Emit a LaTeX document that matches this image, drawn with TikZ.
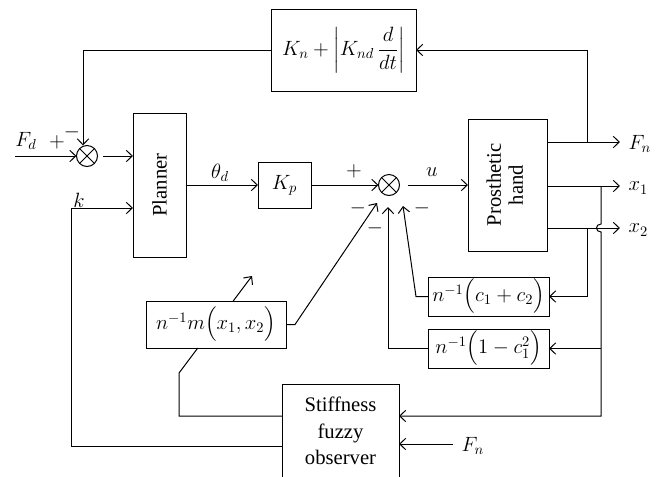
\RequirePackage{fix-cm}
\documentclass[tikz,border=0pt]{standalone}
\usepackage{amsmath}
\usepackage{fontspec}
\setmainfont{Liberation Serif}
\usepackage{graphicx}
\usetikzlibrary{arrows.meta}
\begin{document}
\begin{tikzpicture}[x=0.75pt,y=-0.75pt,
  font=\fontsize{15.5}{20}\selectfont,
  line width=0.75pt,
  >={Straight Barb[length=4.5pt,width=8.5pt]},
  blk/.style={draw,fill=white,inner sep=0pt,outer sep=0pt,align=center},
  sumnode/.style={draw,circle,minimum size=15.75pt,inner sep=0pt,outer sep=0pt,
    path picture={\draw (path picture bounding box.north west) -- (path picture bounding box.south east)
                        (path picture bounding box.north east) -- (path picture bounding box.south west);}},
  lbl/.style={inner sep=0pt}]
\useasboundingbox (0,0) rectangle (661,476);

% blocks
\node[blk,minimum width=108.75pt,minimum height=61.5pt] (top) at (343.5,50) {$K_n + \left|K_{nd}\,\dfrac{d}{dt}\right|$};
\node[sumnode] (sum1) at (87,156) {};
\node[blk,minimum width=39.75pt,minimum height=108pt] (planner) at (159.5,185) {\rotatebox{90}{Planner}};
\node[blk,minimum width=39.75pt,minimum height=34.5pt] (Kp) at (284.5,185) {$K_p$};
\node[sumnode] (sum2) at (389,185) {};
\node[blk,minimum width=59.25pt,minimum height=99pt] (hand) at (507.5,185)
  {\rotatebox{90}{\fontsize{15.5}{16.5}\selectfont\begin{tabular}{@{}c@{}}Prosthetic\\hand\end{tabular}}};
\node[blk,minimum width=90.75pt,minimum height=29.25pt] (c12) at (488.5,296.5) {$n^{-1}\Bigl(c_1+c_2\Bigr)$};
\node[blk,minimum width=90.75pt,minimum height=29.25pt] (cc) at (488.5,348.5) {$n^{-1}\Bigl(1-c_1^2\Bigr)$};
\node[blk,minimum width=105pt,minimum height=35.25pt] (mx) at (216,324.5) {$n^{-1}m\Bigl(x_1,x_2\Bigr)$};
\node[blk,minimum width=87.75pt,minimum height=70.5pt] (stiff) at (340.5,431) {Stiffness\\fuzzy\\observer};

% coordinates
\coordinate (Fdin) at (15,156);
\coordinate (kL) at (71,446);
\coordinate (kin) at (0,208);
\coordinate (Fnout) at (620,142);
\coordinate (x1out) at (620,186);
\coordinate (x2out) at (620,228);
\coordinate (fbR) at (587,142);
\coordinate (b2) at (587,228);
\coordinate (b1) at (601,186);
\coordinate (hopT) at (601,224);
\coordinate (hopB) at (601,232);
\coordinate (j1) at (601,348.5);
\coordinate (sIn) at (0,416);
\coordinate (c12L) at (416,296.5);
\coordinate (s2a) at (403,206);
\coordinate (ccL) at (388,348.5);
\coordinate (s2b) at (388,207);
\coordinate (mR) at (295,324.5);
\coordinate (s2c) at (377,203);
\coordinate (FnS) at (453,444);
\coordinate (adjA) at (179,416);
\coordinate (adjB) at (179,373);
\coordinate (adjBot) at (197.8,348);
\coordinate (adjTop) at (233.2,301);
\coordinate (adjC) at (252,276);

% connectors
\draw[->] (Fdin) -- (sum1);
\draw[->,shorten <=4pt] (sum1) -- (planner.west |- sum1);
\draw[->] (top.west) -| ([xshift=-3pt]sum1.north);
\draw[->] (stiff.west |- kL) -- (kL) |- (planner.west |- kin);
\draw[->] (planner) -- (Kp);
\draw[->] (Kp) -- (sum2);
\draw[->,shorten <=6pt] (sum2) -- (hand);
\draw[->] (hand.east |- Fnout) -- (Fnout);
\draw[->] (hand.east |- x1out) -- (x1out);
\draw[->] (hand.east |- x2out) -- (x2out);
\draw[->] (fbR) |- (top.east);
\draw[->] (b2) |- (c12.east);
\draw[->] (b1) -- (hopT) .. controls +(-6,0) and +(-6,0) .. (hopB) |- (stiff.east |- sIn);
\draw[->] (j1) -- (cc.east);
\draw[->] (c12.west) -- (c12L) -- (s2a);
\draw[->] (cc.west) -- (ccL) -- (s2b);
\draw[->] (mx.east) -- (mR) -- (s2c);
\draw[->] (FnS) -- (stiff.east |- FnS);
\draw (stiff.west |- sIn) -- (adjA) -- (adjB) -- (adjBot);
\draw[->] (adjTop) -- (adjC);

% labels
\node[lbl] (lFd) at (26,141) {$F_d$};
\node[lbl] (lp1) at (57,142) {$+$};
\node[lbl] (lm1) at (72,132) {$-$};
\node[lbl] (lk) at (79,200) {$k$};
\node[lbl] (lth) at (220,173) {$\theta_d$};
\node[lbl] (lp2) at (354,171) {$+$};
\node[lbl] (lu) at (432,172) {$u$};
\node[lbl] (lm2) at (358,208) {$-$};
\node[lbl] (lm3) at (375,228) {$-$};
\node[lbl] (lm4) at (422,208) {$-$};
\node[lbl,anchor=west] (lFn) at (628,144) {$F_n$};
\node[lbl,anchor=west] (lx1) at (628,188) {$x_1$};
\node[lbl,anchor=west] (lx2) at (628,230) {$x_2$};
\node[lbl,anchor=west] (lFn2) at (461,446) {$F_n$};
\end{tikzpicture}
\end{document}
